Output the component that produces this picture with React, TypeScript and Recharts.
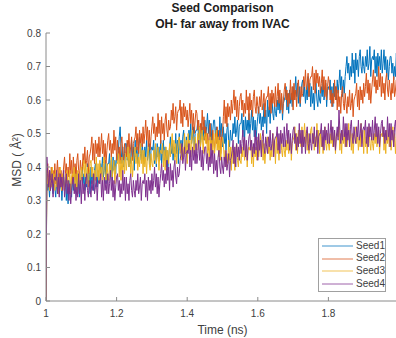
import React from 'react';
import { LineChart, Line, XAxis, YAxis, Legend } from 'recharts';

const time = [
  1,
  1.0025, 1.005, 1.0075, 1.01, 1.0125, 1.015, 1.0175, 1.02, 1.0225, 1.025,
  1.0275, 1.03, 1.0325, 1.035, 1.0375, 1.04, 1.0425, 1.045, 1.0475, 1.05,
  1.0525, 1.055, 1.0575, 1.06, 1.0625, 1.065, 1.0675, 1.07, 1.0725, 1.075,
  1.0775, 1.08, 1.0825, 1.085, 1.0875, 1.09, 1.0925, 1.095, 1.0975, 1.1,
  1.1025, 1.105, 1.1075, 1.11, 1.1125, 1.115, 1.1175, 1.12, 1.1225, 1.125,
  1.1275, 1.13, 1.1325, 1.135, 1.1375, 1.14, 1.1425, 1.145, 1.1475, 1.15,
  1.1525, 1.155, 1.1575, 1.16, 1.1625, 1.165, 1.1675, 1.17, 1.1725, 1.175,
  1.1775, 1.18, 1.1825, 1.185, 1.1875, 1.19, 1.1925, 1.195, 1.1975, 1.2,
  1.2025, 1.205, 1.2075, 1.21, 1.2125, 1.215, 1.2175, 1.22, 1.2225, 1.225,
  1.2275, 1.23, 1.2325, 1.235, 1.2375, 1.24, 1.2425, 1.245, 1.2475, 1.25,
  1.2525, 1.255, 1.2575, 1.26, 1.2625, 1.265, 1.2675, 1.27, 1.2725, 1.275,
  1.2775, 1.28, 1.2825, 1.285, 1.2875, 1.29, 1.2925, 1.295, 1.2975, 1.3,
  1.3025, 1.305, 1.3075, 1.31, 1.3125, 1.315, 1.3175, 1.32, 1.3225, 1.325,
  1.3275, 1.33, 1.3325, 1.335, 1.3375, 1.34, 1.3425, 1.345, 1.3475, 1.35,
  1.3525, 1.355, 1.3575, 1.36, 1.3625, 1.365, 1.3675, 1.37, 1.3725, 1.375,
  1.3775, 1.38, 1.3825, 1.385, 1.3875, 1.39, 1.3925, 1.395, 1.3975, 1.4,
  1.4025, 1.405, 1.4075, 1.41, 1.4125, 1.415, 1.4175, 1.42, 1.4225, 1.425,
  1.4275, 1.43, 1.4325, 1.435, 1.4375, 1.44, 1.4425, 1.445, 1.4475, 1.45,
  1.4525, 1.455, 1.4575, 1.46, 1.4625, 1.465, 1.4675, 1.47, 1.4725, 1.475,
  1.4775, 1.48, 1.4825, 1.485, 1.4875, 1.49, 1.4925, 1.495, 1.4975, 1.5,
  1.5025, 1.505, 1.5075, 1.51, 1.5125, 1.515, 1.5175, 1.52, 1.5225, 1.525,
  1.5275, 1.53, 1.5325, 1.535, 1.5375, 1.54, 1.5425, 1.545, 1.5475, 1.55,
  1.5525, 1.555, 1.5575, 1.56, 1.5625, 1.565, 1.5675, 1.57, 1.5725, 1.575,
  1.5775, 1.58, 1.5825, 1.585, 1.5875, 1.59, 1.5925, 1.595, 1.5975, 1.6,
  1.6025, 1.605, 1.6075, 1.61, 1.6125, 1.615, 1.6175, 1.62, 1.6225, 1.625,
  1.6275, 1.63, 1.6325, 1.635, 1.6375, 1.64, 1.6425, 1.645, 1.6475, 1.65,
  1.6525, 1.655, 1.6575, 1.66, 1.6625, 1.665, 1.6675, 1.67, 1.6725, 1.675,
  1.6775, 1.68, 1.6825, 1.685, 1.6875, 1.69, 1.6925, 1.695, 1.6975, 1.7,
  1.7025, 1.705, 1.7075, 1.71, 1.7125, 1.715, 1.7175, 1.72, 1.7225, 1.725,
  1.7275, 1.73, 1.7325, 1.735, 1.7375, 1.74, 1.7425, 1.745, 1.7475, 1.75,
  1.7525, 1.755, 1.7575, 1.76, 1.7625, 1.765, 1.7675, 1.77, 1.7725, 1.775,
  1.7775, 1.78, 1.7825, 1.785, 1.7875, 1.79, 1.7925, 1.795, 1.7975, 1.8,
  1.8025, 1.805, 1.8075, 1.81, 1.8125, 1.815, 1.8175, 1.82, 1.8225, 1.825,
  1.8275, 1.83, 1.8325, 1.835, 1.8375, 1.84, 1.8425, 1.845, 1.8475, 1.85,
  1.8525, 1.855, 1.8575, 1.86, 1.8625, 1.865, 1.8675, 1.87, 1.8725, 1.875,
  1.8775, 1.88, 1.8825, 1.885, 1.8875, 1.89, 1.8925, 1.895, 1.8975, 1.9,
  1.9025, 1.905, 1.9075, 1.91, 1.9125, 1.915, 1.9175, 1.92, 1.9225, 1.925,
  1.9275, 1.93, 1.9325, 1.935, 1.9375, 1.94, 1.9425, 1.945, 1.9475, 1.95,
  1.9525, 1.955, 1.9575, 1.96, 1.9625, 1.965, 1.9675, 1.97, 1.9725, 1.975,
  1.9775, 1.98, 1.9825, 1.985, 1.9875, 1.99, 1.9925, 1.995, 1.9975, 2,
];

const seed1 = [
  0,
  0.38, 0.33, 0.36, 0.31, 0.37, 0.39, 0.34, 0.32, 0.37, 0.34,
  0.31, 0.36, 0.33, 0.38, 0.32, 0.34, 0.37, 0.30, 0.35, 0.36,
  0.34, 0.37, 0.30, 0.35, 0.29, 0.36, 0.32, 0.35, 0.31, 0.37,
  0.33, 0.36, 0.40, 0.34, 0.38, 0.32, 0.37, 0.31, 0.35, 0.38,
  0.40, 0.35, 0.38, 0.33, 0.37, 0.34, 0.41, 0.35, 0.39, 0.32,
  0.40, 0.35, 0.38, 0.33, 0.39, 0.41, 0.36, 0.34, 0.39, 0.36,
  0.36, 0.41, 0.38, 0.43, 0.37, 0.39, 0.42, 0.35, 0.40, 0.41,
  0.41, 0.44, 0.37, 0.42, 0.36, 0.43, 0.39, 0.42, 0.38, 0.44,
  0.42, 0.45, 0.49, 0.52, 0.46, 0.41, 0.46, 0.40, 0.44, 0.47,
  0.47, 0.42, 0.45, 0.40, 0.44, 0.41, 0.48, 0.42, 0.46, 0.39,
  0.48, 0.43, 0.46, 0.41, 0.47, 0.49, 0.44, 0.42, 0.47, 0.44,
  0.41, 0.46, 0.43, 0.48, 0.42, 0.44, 0.47, 0.40, 0.45, 0.46,
  0.45, 0.48, 0.41, 0.46, 0.40, 0.47, 0.43, 0.46, 0.42, 0.48,
  0.41, 0.44, 0.48, 0.42, 0.46, 0.40, 0.45, 0.39, 0.43, 0.46,
  0.49, 0.44, 0.47, 0.42, 0.46, 0.43, 0.50, 0.44, 0.48, 0.41,
  0.50, 0.45, 0.48, 0.43, 0.49, 0.51, 0.46, 0.44, 0.49, 0.46,
  0.46, 0.51, 0.48, 0.53, 0.47, 0.49, 0.52, 0.45, 0.50, 0.51,
  0.51, 0.54, 0.47, 0.52, 0.46, 0.53, 0.49, 0.52, 0.48, 0.54,
  0.49, 0.52, 0.56, 0.50, 0.54, 0.48, 0.53, 0.47, 0.51, 0.54,
  0.54, 0.49, 0.52, 0.47, 0.51, 0.48, 0.55, 0.49, 0.53, 0.46,
  0.52, 0.47, 0.50, 0.45, 0.51, 0.53, 0.48, 0.46, 0.51, 0.48,
  0.48, 0.53, 0.50, 0.55, 0.49, 0.51, 0.54, 0.47, 0.52, 0.53,
  0.53, 0.56, 0.49, 0.54, 0.48, 0.55, 0.51, 0.54, 0.50, 0.56,
  0.50, 0.53, 0.57, 0.51, 0.55, 0.49, 0.54, 0.48, 0.52, 0.55,
  0.58, 0.53, 0.56, 0.51, 0.55, 0.52, 0.59, 0.53, 0.57, 0.50,
  0.60, 0.55, 0.58, 0.53, 0.59, 0.61, 0.56, 0.54, 0.59, 0.56,
  0.55, 0.60, 0.57, 0.62, 0.56, 0.58, 0.61, 0.54, 0.59, 0.60,
  0.61, 0.64, 0.57, 0.62, 0.56, 0.63, 0.59, 0.62, 0.58, 0.64,
  0.60, 0.63, 0.67, 0.61, 0.65, 0.59, 0.64, 0.58, 0.62, 0.65,
  0.66, 0.61, 0.64, 0.59, 0.63, 0.60, 0.67, 0.61, 0.65, 0.58,
  0.64, 0.59, 0.62, 0.57, 0.63, 0.65, 0.60, 0.58, 0.63, 0.60,
  0.59, 0.64, 0.61, 0.66, 0.60, 0.62, 0.65, 0.58, 0.63, 0.64,
  0.63, 0.66, 0.59, 0.64, 0.58, 0.65, 0.61, 0.64, 0.60, 0.66,
  0.62, 0.65, 0.69, 0.63, 0.67, 0.61, 0.66, 0.62, 0.67, 0.70,
  0.73, 0.68, 0.71, 0.66, 0.70, 0.67, 0.74, 0.68, 0.72, 0.65,
  0.74, 0.69, 0.72, 0.67, 0.73, 0.75, 0.70, 0.68, 0.73, 0.70,
  0.68, 0.73, 0.70, 0.75, 0.69, 0.71, 0.76, 0.67, 0.72, 0.73,
  0.72, 0.75, 0.68, 0.73, 0.67, 0.74, 0.70, 0.73, 0.69, 0.75,
  0.68, 0.71, 0.75, 0.69, 0.73, 0.67, 0.72, 0.66, 0.70, 0.73,
  0.73, 0.68, 0.71, 0.66, 0.70, 0.67, 0.74, 0.68, 0.72, 0.67,
];

const seed2 = [
  0,
  0.38, 0.41, 0.34, 0.39, 0.33, 0.40, 0.36, 0.39, 0.35, 0.41,
  0.35, 0.38, 0.42, 0.36, 0.40, 0.34, 0.39, 0.33, 0.37, 0.40,
  0.43, 0.38, 0.41, 0.36, 0.40, 0.37, 0.44, 0.38, 0.42, 0.35,
  0.43, 0.38, 0.41, 0.36, 0.42, 0.44, 0.39, 0.37, 0.42, 0.39,
  0.39, 0.44, 0.41, 0.46, 0.40, 0.42, 0.45, 0.38, 0.43, 0.44,
  0.46, 0.49, 0.42, 0.47, 0.41, 0.48, 0.44, 0.47, 0.43, 0.49,
  0.43, 0.46, 0.50, 0.44, 0.48, 0.42, 0.47, 0.41, 0.45, 0.48,
  0.50, 0.45, 0.48, 0.43, 0.47, 0.44, 0.51, 0.45, 0.49, 0.42,
  0.48, 0.43, 0.46, 0.41, 0.47, 0.49, 0.44, 0.42, 0.47, 0.44,
  0.43, 0.48, 0.45, 0.50, 0.44, 0.46, 0.49, 0.42, 0.47, 0.48,
  0.49, 0.52, 0.45, 0.50, 0.44, 0.51, 0.47, 0.50, 0.46, 0.52,
  0.47, 0.50, 0.54, 0.48, 0.52, 0.46, 0.51, 0.45, 0.49, 0.52,
  0.55, 0.50, 0.53, 0.48, 0.52, 0.49, 0.56, 0.50, 0.54, 0.47,
  0.55, 0.50, 0.53, 0.48, 0.54, 0.56, 0.51, 0.49, 0.54, 0.51,
  0.52, 0.57, 0.54, 0.59, 0.53, 0.55, 0.58, 0.51, 0.56, 0.57,
  0.57, 0.60, 0.53, 0.58, 0.52, 0.59, 0.55, 0.58, 0.54, 0.57,
  0.52, 0.55, 0.59, 0.53, 0.57, 0.51, 0.56, 0.50, 0.54, 0.57,
  0.56, 0.51, 0.54, 0.49, 0.53, 0.50, 0.57, 0.51, 0.55, 0.48,
  0.52, 0.47, 0.50, 0.45, 0.51, 0.53, 0.48, 0.46, 0.51, 0.48,
  0.45, 0.50, 0.47, 0.52, 0.46, 0.48, 0.51, 0.44, 0.49, 0.50,
  0.55, 0.60, 0.53, 0.58, 0.52, 0.59, 0.55, 0.58, 0.54, 0.60,
  0.56, 0.59, 0.63, 0.57, 0.61, 0.55, 0.60, 0.54, 0.58, 0.61,
  0.62, 0.57, 0.60, 0.55, 0.59, 0.56, 0.63, 0.57, 0.61, 0.54,
  0.62, 0.57, 0.60, 0.55, 0.61, 0.63, 0.58, 0.56, 0.61, 0.58,
  0.56, 0.61, 0.58, 0.63, 0.57, 0.59, 0.62, 0.55, 0.60, 0.61,
  0.61, 0.64, 0.57, 0.62, 0.56, 0.63, 0.59, 0.62, 0.58, 0.64,
  0.58, 0.61, 0.65, 0.59, 0.63, 0.57, 0.62, 0.56, 0.60, 0.63,
  0.65, 0.60, 0.63, 0.58, 0.62, 0.59, 0.66, 0.60, 0.64, 0.57,
  0.65, 0.60, 0.63, 0.58, 0.64, 0.66, 0.61, 0.59, 0.64, 0.61,
  0.62, 0.67, 0.64, 0.69, 0.63, 0.65, 0.68, 0.61, 0.66, 0.67,
  0.67, 0.70, 0.63, 0.68, 0.62, 0.69, 0.65, 0.68, 0.64, 0.67,
  0.62, 0.65, 0.69, 0.63, 0.67, 0.61, 0.66, 0.60, 0.64, 0.67,
  0.65, 0.60, 0.63, 0.58, 0.62, 0.59, 0.66, 0.60, 0.64, 0.57,
  0.63, 0.58, 0.61, 0.56, 0.62, 0.64, 0.59, 0.57, 0.62, 0.59,
  0.56, 0.61, 0.58, 0.63, 0.57, 0.59, 0.62, 0.55, 0.60, 0.61,
  0.62, 0.65, 0.58, 0.63, 0.57, 0.64, 0.60, 0.63, 0.59, 0.65,
  0.61, 0.64, 0.68, 0.62, 0.66, 0.60, 0.65, 0.59, 0.63, 0.66,
  0.69, 0.64, 0.67, 0.62, 0.66, 0.63, 0.70, 0.64, 0.68, 0.61,
  0.67, 0.62, 0.65, 0.60, 0.66, 0.68, 0.63, 0.61, 0.66, 0.63,
  0.60, 0.65, 0.62, 0.67, 0.61, 0.63, 0.66, 0.59, 0.64, 0.65,
];

const seed3 = [
  0,
  0.39, 0.35, 0.37, 0.33, 0.36, 0.34, 0.40, 0.35, 0.38, 0.33,
  0.39, 0.34, 0.37, 0.32, 0.38, 0.40, 0.35, 0.33, 0.38, 0.35,
  0.33, 0.38, 0.35, 0.39, 0.34, 0.36, 0.39, 0.32, 0.37, 0.38,
  0.37, 0.40, 0.33, 0.38, 0.32, 0.39, 0.35, 0.38, 0.34, 0.40,
  0.36, 0.39, 0.42, 0.37, 0.41, 0.35, 0.40, 0.34, 0.38, 0.41,
  0.42, 0.37, 0.40, 0.35, 0.39, 0.36, 0.43, 0.37, 0.41, 0.35,
  0.42, 0.37, 0.40, 0.35, 0.41, 0.43, 0.38, 0.36, 0.41, 0.38,
  0.36, 0.41, 0.38, 0.43, 0.37, 0.39, 0.42, 0.35, 0.40, 0.41,
  0.41, 0.44, 0.37, 0.42, 0.36, 0.43, 0.39, 0.42, 0.38, 0.44,
  0.39, 0.42, 0.46, 0.40, 0.44, 0.38, 0.43, 0.37, 0.41, 0.44,
  0.46, 0.41, 0.44, 0.39, 0.43, 0.40, 0.47, 0.41, 0.45, 0.38,
  0.45, 0.40, 0.43, 0.38, 0.44, 0.46, 0.41, 0.39, 0.44, 0.41,
  0.40, 0.45, 0.42, 0.47, 0.41, 0.43, 0.46, 0.39, 0.44, 0.45,
  0.44, 0.47, 0.40, 0.45, 0.39, 0.46, 0.42, 0.45, 0.41, 0.47,
  0.43, 0.46, 0.50, 0.44, 0.48, 0.42, 0.47, 0.41, 0.45, 0.48,
  0.49, 0.44, 0.47, 0.42, 0.46, 0.43, 0.50, 0.44, 0.48, 0.41,
  0.50, 0.45, 0.48, 0.43, 0.49, 0.51, 0.46, 0.44, 0.49, 0.46,
  0.45, 0.50, 0.47, 0.52, 0.46, 0.48, 0.51, 0.44, 0.49, 0.50,
  0.47, 0.50, 0.43, 0.48, 0.42, 0.49, 0.45, 0.48, 0.44, 0.50,
  0.44, 0.47, 0.51, 0.45, 0.49, 0.43, 0.48, 0.42, 0.46, 0.49,
  0.47, 0.42, 0.45, 0.40, 0.44, 0.41, 0.48, 0.42, 0.46, 0.39,
  0.46, 0.41, 0.44, 0.39, 0.45, 0.47, 0.42, 0.40, 0.45, 0.42,
  0.41, 0.46, 0.43, 0.48, 0.42, 0.44, 0.47, 0.40, 0.45, 0.46,
  0.45, 0.48, 0.41, 0.46, 0.40, 0.47, 0.43, 0.46, 0.42, 0.48,
  0.43, 0.46, 0.50, 0.44, 0.48, 0.42, 0.47, 0.41, 0.45, 0.48,
  0.49, 0.44, 0.47, 0.42, 0.46, 0.43, 0.50, 0.44, 0.48, 0.41,
  0.49, 0.44, 0.47, 0.42, 0.48, 0.50, 0.45, 0.43, 0.48, 0.45,
  0.43, 0.48, 0.45, 0.50, 0.44, 0.46, 0.49, 0.42, 0.47, 0.48,
  0.49, 0.52, 0.45, 0.50, 0.44, 0.51, 0.47, 0.50, 0.46, 0.52,
  0.46, 0.49, 0.53, 0.47, 0.51, 0.45, 0.50, 0.44, 0.48, 0.51,
  0.52, 0.47, 0.50, 0.45, 0.49, 0.46, 0.53, 0.47, 0.51, 0.44,
  0.51, 0.46, 0.49, 0.44, 0.50, 0.52, 0.47, 0.45, 0.50, 0.47,
  0.45, 0.50, 0.47, 0.52, 0.46, 0.48, 0.51, 0.44, 0.49, 0.50,
  0.49, 0.52, 0.45, 0.50, 0.44, 0.51, 0.47, 0.50, 0.46, 0.52,
  0.46, 0.49, 0.53, 0.47, 0.51, 0.45, 0.50, 0.44, 0.48, 0.51,
  0.52, 0.47, 0.50, 0.45, 0.49, 0.46, 0.53, 0.47, 0.51, 0.44,
  0.51, 0.46, 0.49, 0.44, 0.50, 0.52, 0.47, 0.45, 0.50, 0.47,
  0.45, 0.50, 0.47, 0.52, 0.46, 0.48, 0.51, 0.44, 0.49, 0.50,
  0.49, 0.52, 0.45, 0.50, 0.44, 0.51, 0.47, 0.50, 0.46, 0.52,
  0.45, 0.48, 0.52, 0.46, 0.50, 0.44, 0.49, 0.43, 0.47, 0.50,
];

const seed4 = [
  0,
  0.43, 0.38, 0.34, 0.39, 0.33, 0.35, 0.38, 0.31, 0.36, 0.37,
  0.36, 0.39, 0.32, 0.37, 0.31, 0.38, 0.34, 0.37, 0.33, 0.39,
  0.31, 0.34, 0.38, 0.32, 0.36, 0.30, 0.35, 0.29, 0.33, 0.36,
  0.37, 0.32, 0.35, 0.30, 0.34, 0.31, 0.38, 0.32, 0.36, 0.29,
  0.37, 0.32, 0.35, 0.30, 0.36, 0.38, 0.33, 0.31, 0.36, 0.33,
  0.31, 0.36, 0.33, 0.38, 0.32, 0.34, 0.37, 0.30, 0.35, 0.36,
  0.35, 0.38, 0.31, 0.36, 0.30, 0.37, 0.33, 0.36, 0.32, 0.38,
  0.32, 0.35, 0.39, 0.33, 0.37, 0.31, 0.36, 0.30, 0.34, 0.37,
  0.38, 0.33, 0.36, 0.31, 0.35, 0.32, 0.39, 0.33, 0.37, 0.30,
  0.37, 0.32, 0.35, 0.30, 0.36, 0.38, 0.33, 0.31, 0.36, 0.33,
  0.31, 0.36, 0.33, 0.38, 0.32, 0.34, 0.37, 0.30, 0.35, 0.36,
  0.35, 0.38, 0.31, 0.36, 0.30, 0.37, 0.33, 0.36, 0.32, 0.38,
  0.33, 0.36, 0.40, 0.34, 0.38, 0.32, 0.37, 0.31, 0.35, 0.38,
  0.41, 0.36, 0.39, 0.34, 0.38, 0.35, 0.42, 0.36, 0.40, 0.33,
  0.41, 0.36, 0.39, 0.34, 0.40, 0.42, 0.37, 0.35, 0.40, 0.37,
  0.38, 0.42, 0.44, 0.47, 0.41, 0.43, 0.46, 0.39, 0.44, 0.45,
  0.44, 0.47, 0.40, 0.45, 0.39, 0.46, 0.42, 0.45, 0.41, 0.47,
  0.41, 0.44, 0.48, 0.42, 0.46, 0.40, 0.45, 0.39, 0.43, 0.46,
  0.46, 0.41, 0.44, 0.39, 0.43, 0.40, 0.47, 0.41, 0.45, 0.38,
  0.44, 0.39, 0.42, 0.37, 0.43, 0.45, 0.40, 0.38, 0.43, 0.40,
  0.38, 0.43, 0.40, 0.45, 0.39, 0.41, 0.44, 0.37, 0.42, 0.43,
  0.45, 0.48, 0.41, 0.46, 0.40, 0.47, 0.43, 0.46, 0.42, 0.48,
  0.44, 0.47, 0.51, 0.45, 0.49, 0.43, 0.48, 0.42, 0.46, 0.49,
  0.50, 0.45, 0.48, 0.43, 0.47, 0.44, 0.51, 0.45, 0.49, 0.42,
  0.50, 0.45, 0.48, 0.43, 0.49, 0.51, 0.46, 0.44, 0.49, 0.46,
  0.44, 0.49, 0.46, 0.51, 0.45, 0.47, 0.50, 0.43, 0.48, 0.49,
  0.49, 0.52, 0.45, 0.50, 0.44, 0.51, 0.47, 0.50, 0.46, 0.52,
  0.46, 0.49, 0.53, 0.47, 0.51, 0.45, 0.50, 0.44, 0.48, 0.51,
  0.52, 0.47, 0.50, 0.45, 0.49, 0.46, 0.53, 0.47, 0.51, 0.44,
  0.51, 0.46, 0.49, 0.44, 0.50, 0.52, 0.47, 0.45, 0.50, 0.47,
  0.45, 0.50, 0.47, 0.52, 0.46, 0.48, 0.51, 0.44, 0.49, 0.50,
  0.50, 0.53, 0.46, 0.51, 0.45, 0.52, 0.48, 0.51, 0.47, 0.53,
  0.47, 0.50, 0.54, 0.48, 0.52, 0.46, 0.51, 0.45, 0.49, 0.52,
  0.48, 0.57, 0.51, 0.47, 0.51, 0.48, 0.55, 0.49, 0.53, 0.46,
  0.53, 0.48, 0.51, 0.46, 0.52, 0.54, 0.49, 0.47, 0.52, 0.49,
  0.47, 0.52, 0.49, 0.54, 0.48, 0.50, 0.53, 0.46, 0.51, 0.52,
  0.51, 0.54, 0.47, 0.52, 0.46, 0.53, 0.49, 0.52, 0.48, 0.54,
  0.48, 0.51, 0.55, 0.49, 0.53, 0.47, 0.52, 0.46, 0.50, 0.53,
  0.54, 0.49, 0.52, 0.47, 0.51, 0.48, 0.55, 0.49, 0.53, 0.46,
  0.53, 0.48, 0.51, 0.46, 0.52, 0.54, 0.49, 0.47, 0.52, 0.49,
];

const xTicks = [1, 1.2, 1.4, 1.6, 1.8, 2];
const xTickLabels = ['1', '1.2', '1.4', '1.6', '1.8', '2'];
const yTicks = [0, 0.1, 0.2, 0.3, 0.4, 0.5, 0.6, 0.7, 0.8];
const yTickLabels = ['0', '0.1', '0.2', '0.3', '0.4', '0.5', '0.6', '0.7', '0.8'];
const seriesKeys = ['s1', 's2', 's3', 's4'];
const seriesNames = ['Seed1', 'Seed2', 'Seed3', 'Seed4'];
const seriesColors = ['#0072BD', '#D95319', '#EDB120', '#7E2F8E'];
const titleLines = ['Seed Comparison', 'OH- far away from IVAC'];
const xLabel = 'Time (ns)';
const yLabel = 'MSD ( Å²)';

const rows = time.map((t, i) => ({ t, s1: seed1[i], s2: seed2[i], s3: seed3[i], s4: seed4[i] }));

const FONT = '"Liberation Sans", Arial, Helvetica, sans-serif';
const AXIS = '#8a8a8a';
const TXT = '#404040';

const XTick = (props: any) => {
  const { x, y, payload } = props;
  const idx = xTicks.indexOf(payload.value);
  return (
    <g>
      <line x1={x} y1={y} x2={x} y2={y - 4} stroke={AXIS} strokeWidth={1} />
      <text x={x} y={y + 16} textAnchor="middle" fontSize={10} fontFamily={FONT} fill={TXT}>
        {idx >= 0 ? xTickLabels[idx] : String(payload.value)}
      </text>
    </g>
  );
};

const TopTick = (props: any) => {
  const { x, y } = props;
  return <line x1={x} y1={y} x2={x} y2={y + 4} stroke={AXIS} strokeWidth={1} />;
};

const YTick = (props: any) => {
  const { x, y, payload } = props;
  const idx = yTicks.findIndex((v) => Math.abs(v - payload.value) < 1e-9);
  return (
    <g>
      <line x1={x} y1={y} x2={x + 4} y2={y} stroke={AXIS} strokeWidth={1} />
      <text x={x - 5} y={y + 3.5} textAnchor="end" fontSize={10} fontFamily={FONT} fill={TXT}>
        {idx >= 0 ? yTickLabels[idx] : String(payload.value)}
      </text>
    </g>
  );
};

const renderLegend = (props: any) => {
  const payload = props.payload || [];
  return (
    <div
      style={{
        width: 66,
        height: 51,
        border: '1px solid #a0a0a0',
        background: '#fff',
        fontFamily: FONT,
        fontSize: 10,
        color: TXT,
        paddingTop: 0.5,
        boxSizing: 'content-box',
      }}
    >
      {payload.map((e: any, i: number) => (
        <div key={i} style={{ display: 'flex', alignItems: 'center', height: 12.7, lineHeight: '12.7px' }}>
          <svg width={38} height={12} style={{ display: 'block' }}>
            <line x1={3} y1={6} x2={34} y2={6} stroke={e.color} strokeWidth={1} opacity={0.75} />
          </svg>
          <span>{e.value}</span>
        </div>
      ))}
    </div>
  );
};

export default function App() {
  return (
    <div style={{ position: 'absolute', left: 0, top: 0, width: 396, height: 338, overflow: 'hidden', background: '#fff' }}>
      <div
        style={{
          position: 'absolute',
          left: 0,
          top: 1,
          width: 445,
          textAlign: 'center',
          fontFamily: FONT,
          fontWeight: 'bold',
          fontSize: 12,
          lineHeight: '15.5px',
          color: '#202020',
          zIndex: 2,
        }}
      >
        <div>{titleLines[0]}</div>
        <div>{titleLines[1]}</div>
      </div>
      <LineChart width={400} height={338} data={rows} margin={{ top: 33, right: 1, left: 0, bottom: 0 }}>
        <XAxis
          xAxisId="top"
          orientation="top"
          dataKey="t"
          type="number"
          domain={[1, 2]}
          ticks={xTicks}
          interval={0}
          height={0}
          tickSize={0}
          tickMargin={0}
          tickLine={false}
          tick={<TopTick />}
          stroke={AXIS}
          allowDataOverflow
        />
        <XAxis
          dataKey="t"
          type="number"
          domain={[1, 2]}
          ticks={xTicks}
          interval={0}
          height={37}
          tickSize={0}
          tickMargin={0}
          tickLine={false}
          tick={<XTick />}
          stroke={AXIS}
          allowDataOverflow
          label={{
            value: xLabel,
            position: 'insideBottom',
            offset: 4,
            fontSize: 12,
            fontFamily: FONT,
            fill: TXT,
          }}
        />
        <YAxis
          type="number"
          domain={[0, 0.8]}
          ticks={yTicks}
          interval={0}
          width={46}
          tickSize={0}
          tickMargin={0}
          tickLine={false}
          tick={<YTick />}
          stroke={AXIS}
          allowDataOverflow
          label={{
            content: () => (
              <text
                x={17}
                y={160}
                transform="rotate(-90 17 160)"
                textAnchor="middle"
                dominantBaseline="central"
                fontSize={12}
                fontFamily={FONT}
                fill={TXT}
              >
                {yLabel}
              </text>
            ),
          }}
        />
        {seriesKeys.map((k, i) => (
          <Line
            key={k}
            dataKey={k}
            name={seriesNames[i]}
            stroke={seriesColors[i]}
            strokeWidth={1}
            dot={false}
            activeDot={false}
            isAnimationActive={false}
          />
        ))}
        <Legend
          layout="vertical"
          align="center"
          verticalAlign="middle"
          content={renderLegend}
          wrapperStyle={{ left: 318, top: 238, width: 68, height: 53 }}
        />
      </LineChart>
    </div>
  );
}
